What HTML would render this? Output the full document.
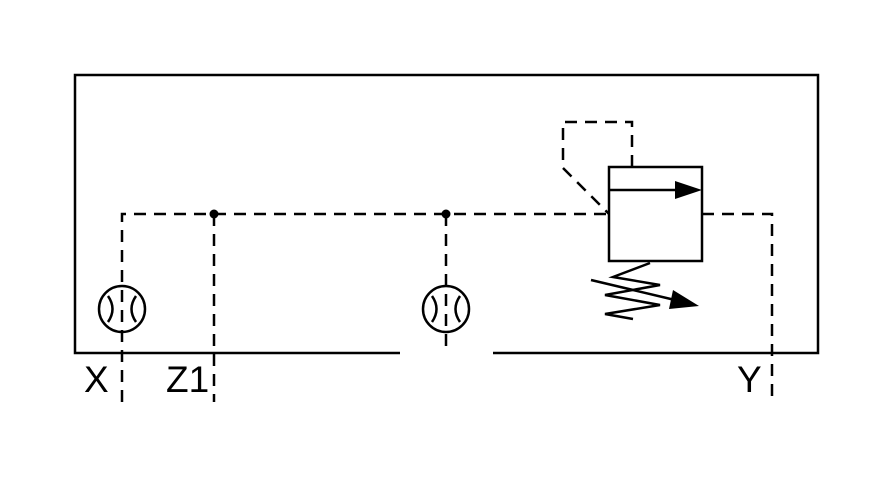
<!DOCTYPE html>
<html><head><style>html,body{margin:0;padding:0;background:#fff;}svg{display:block}</style></head><body>
<svg width="895" height="479" viewBox="0 0 895 479" xmlns="http://www.w3.org/2000/svg">
<g fill="none" stroke="#000" stroke-width="2.5">
<path d="M400,353 H75 V75 H818 V353 H493"/>
<g stroke-dasharray="12,8">
<path d="M122,402 V214 H609"/>
<path d="M214,214 V402"/>
<path d="M446,214 V353"/>
<path d="M702,214 H772 V402"/>
<path d="M632,167 V122 H563 V168 L609,214"/>
</g>
<rect x="609" y="167" width="93" height="94"/>
<path d="M609,190 H678"/>
<circle cx="122" cy="309" r="23"/>
<circle cx="446" cy="309" r="23"/>
<path d="M108,296 Q117,309 108,322 M136,296 Q127,309 136,322"/>
<path d="M432,296 Q441,309 432,322 M460,296 Q451,309 460,322"/>
<path d="M650,263 L613,277 L660,285 L605,295 L660,305 L605,314 L633,319"/>
<path d="M591,280 L675,300"/>
</g>
<polygon points="702,190 675,181 675,199" fill="#000"/>
<polygon points="699,306 673,290 669,309" fill="#000"/>
<circle cx="214" cy="214" r="4.5" fill="#000"/>
<circle cx="446" cy="214" r="4.5" fill="#000"/>
<g font-family="Liberation Sans, sans-serif" font-size="37" fill="#000">
<text x="84" y="392">X</text>
<text x="166" y="392">Z1</text>
<text x="737" y="392">Y</text>
</g>
</svg>
</body></html>
